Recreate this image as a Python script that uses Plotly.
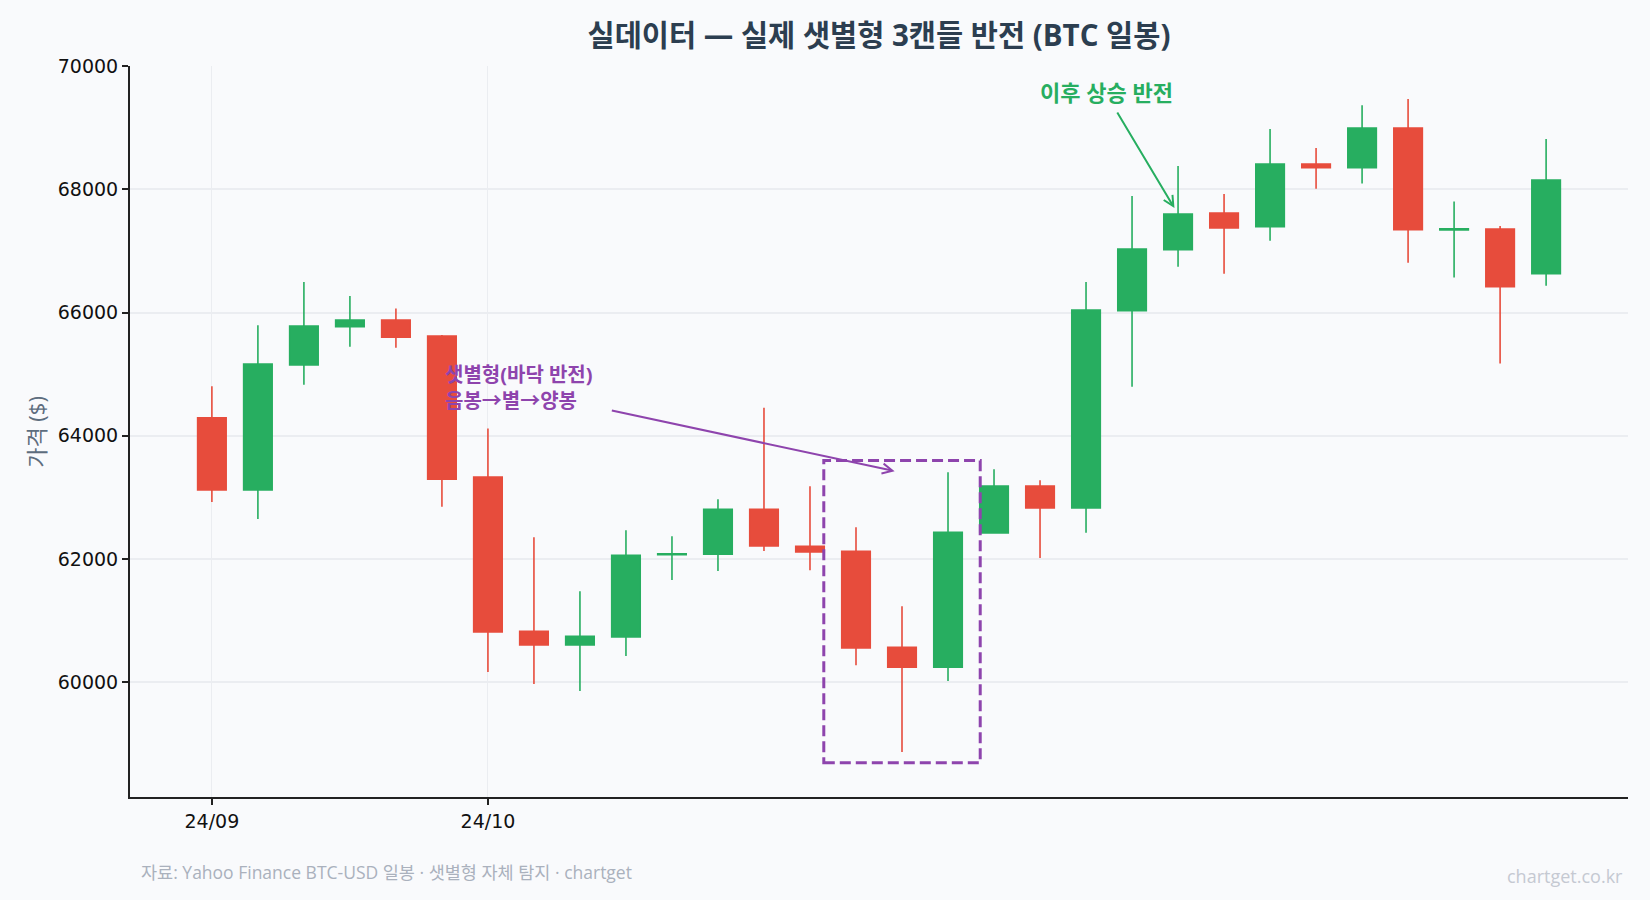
import plotly.graph_objects as go

# ---- data (BTC daily candles) ----
idx = list(range(30))
opens = [64291, 63122, 65150, 65768, 65877, 65617, 63328, 60828, 60606, 60736,
         62070, 62076, 62808, 62208, 62127, 60568, 60244, 62424, 63182, 62830,
         66028, 67018, 67614, 67392, 68409, 68350, 68994, 67340, 67354, 66629]
highs = [64805, 65795, 66494, 66266, 66066, 65633, 64118, 62354, 61477, 62468,
         62370, 62971, 64453, 63182, 62516, 61234, 63409, 63458, 63279, 66494,
         67890, 68377, 67922, 68977, 68669, 69362, 69464, 67803, 67403, 68815]
lows = [62927, 62651, 64826, 65444, 65427, 62846, 60167, 59973, 59859, 60427,
        61661, 61807, 62131, 61818, 60276, 58869, 60022, 62424, 62018, 62424,
        64794, 66742, 66629, 67165, 68009, 68095, 66807, 66569, 65173, 66434]
closes = [63122, 65162, 65779, 65877, 65601, 63295, 60817, 60606, 60747, 62062,
          62085, 62808, 62213, 62116, 60557, 60244, 62435, 63182, 62830, 66039,
          67029, 67597, 67370, 68409, 68350, 68994, 67343, 67360, 66418, 68149]
tick_pos = [0, 6]
tick_text = ["24/09", "24/10"]
ytick_vals = [60000, 62000, 64000, 66000, 68000, 70000]
pattern = [14, 15, 16]      # morning star candles
after_idx = 21              # candle pointed by "이후 상승 반전"

GREEN = "#27ae60"
RED = "#e74c3c"
PURPLE = "#8e44ad"
BG = "#f9fafc"
FONT = "Open Sans, Noto Sans CJK KR"
TICKFONT = "DejaVu Sans"

fig = go.Figure()
fig.add_trace(go.Candlestick(
    x=idx, open=opens, high=highs, low=lows, close=closes,
    increasing=dict(line=dict(color=GREEN, width=1.6), fillcolor=GREEN),
    decreasing=dict(line=dict(color=RED, width=1.6), fillcolor=RED),
    whiskerwidth=0, showlegend=False, hoverinfo="x+y",
))

# dashed box around pattern
y0 = min(lows[i] for i in pattern) * 0.997
y1 = max(highs[i] for i in pattern) * 1.003
fig.add_shape(type="rect", x0=pattern[0] - 0.7, x1=pattern[-1] + 0.7, y0=y0, y1=y1,
              xref="x", yref="y", line=dict(color=PURPLE, width=3, dash="11px,5px"),
              fillcolor="rgba(0,0,0,0)", layer="above")

# purple arrow + text
fig.add_annotation(x=14.84, y=63425, ax=8.66, ay=64416, axref="x", ayref="y",
                   xref="x", yref="y", text="", showarrow=True, arrowhead=5,
                   arrowsize=1, arrowwidth=2, arrowcolor=PURPLE, standoff=0)
fig.add_annotation(x=5.03, y=64790, xref="x", yref="y", showarrow=False,
                   xanchor="left", yanchor="middle", align="left",
                   text="샛별형(바닥 반전)<br>음봉→별→양봉",
                   font=dict(family=FONT, size=20, color=PURPLE, weight="bold"))

# green arrow + text
fig.add_annotation(x=after_idx, y=closes[after_idx], ax=19.66, ay=69270, axref="x", ayref="y",
                   xref="x", yref="y", text="", showarrow=True, arrowhead=5,
                   arrowsize=1, arrowwidth=2, arrowcolor=GREEN, standoff=7)
fig.add_annotation(x=19.44, y=69586, xref="x", yref="y", showarrow=False,
                   text="이후 상승 반전",
                   font=dict(family=FONT, size=22, color=GREEN, weight="bold"))

# y-axis title
fig.add_annotation(x=-0.0632, y=0.5, xref="paper", yref="paper", showarrow=False,
                   xanchor="center", yanchor="middle",
                   text="가격 ($)", textangle=-90,
                   font=dict(family=FONT, size=22, color="#5d6d7e"))

# source + watermark
fig.add_annotation(x=0.0057, y=-0.103, xref="paper", yref="paper", showarrow=False,
                   xanchor="left", yanchor="middle",
                   text="자료: Yahoo Finance BTC-USD 일봉 · 샛별형 자체 탐지 · chartget",
                   font=dict(family=FONT, size=17.5, color="#aab1bd"))
fig.add_annotation(x=0.998, y=-0.1085, xref="paper", yref="paper", showarrow=False,
                   xanchor="right", yanchor="middle", text="chartget.co.kr",
                   font=dict(family=FONT, size=18, color="#c5c9d2"))

fig.update_layout(
    width=1650, height=900,
    margin=dict(l=129.5, r=22.3, t=66, b=103.3),
    paper_bgcolor=BG, plot_bgcolor=BG,
    font=dict(family=FONT, color="#111111"),
    title=dict(text="실데이터 — 실제 샛별형 3캔들 반전 (BTC 일봉)",
               x=0.5, xref="paper", xanchor="center", y=0.96, yanchor="middle",
               font=dict(family=FONT, size=29.5, color="#2c3e50", weight="bold")),
    boxgap=0.38, boxgroupgap=0,
    xaxis=dict(range=[-1.78, 30.78], tickmode="array", tickvals=tick_pos, ticktext=tick_text,
               showgrid=True, gridcolor="#ebedf1", gridwidth=1,
               showline=True, linecolor="#222222", linewidth=2,
               ticks="outside", ticklen=6, tickwidth=1.5, tickcolor="#222222",
               tickfont=dict(family=TICKFONT, size=19, color="#111111"),
               rangeslider=dict(visible=False), zeroline=False),
    yaxis=dict(range=[58138, 70000], tickmode="array",
               tickvals=ytick_vals, ticktext=[str(v) for v in ytick_vals],
               showgrid=True, gridcolor="#ebedf1", gridwidth=1.5,
               showline=True, linecolor="#222222", linewidth=2,
               ticks="outside", ticklen=6, tickwidth=1.5, tickcolor="#222222",
               tickfont=dict(family=TICKFONT, size=19, color="#111111"), zeroline=False),
)

fig.write_html("out.html")
